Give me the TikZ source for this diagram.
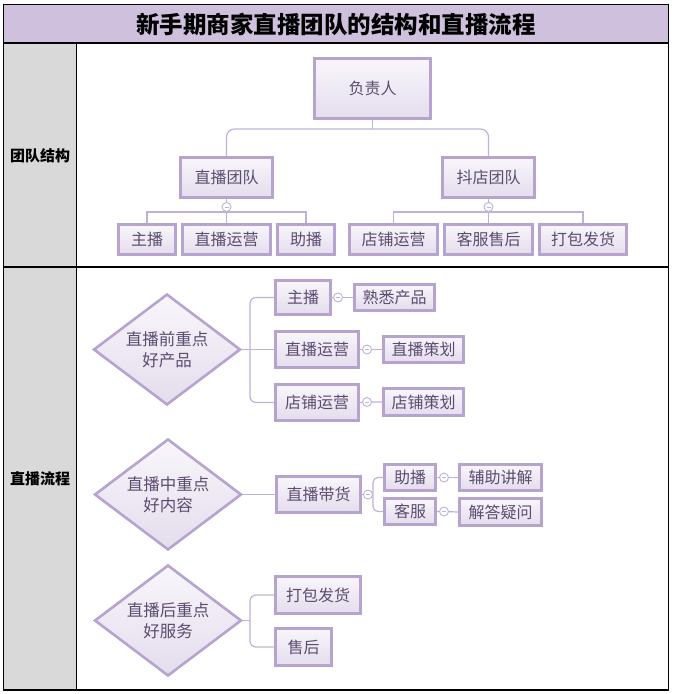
\documentclass[tikz,border=0pt]{standalone}
\usepackage{fontspec}
\newfontfamily\cjk{Noto Sans CJK SC}
\usetikzlibrary{shapes.geometric}
\definecolor{bord}{RGB}{182,164,206}
\definecolor{conn}{RGB}{192,178,214}
\definecolor{txt}{RGB}{92,76,112}
\definecolor{ftop}{RGB}{248,246,251}
\definecolor{fbot}{RGB}{228,221,237}
\definecolor{titlefill}{RGB}{207,193,221}
\definecolor{colfill}{RGB}{217,217,217}
\begin{document}
\begin{tikzpicture}[x=1pt,y=-1pt,
  boxnode/.style={draw=bord,line width=2.8pt,top color=ftop,bottom color=fbot,
    text=txt,font=\cjk\fontsize{16}{18}\selectfont,inner sep=0pt},
  dianode/.style={diamond,draw=bord,line width=2.6pt,top color=ftop,bottom color=fbot,
    text=txt,font=\cjk\fontsize{16.5}{21}\selectfont,inner sep=0pt,shape aspect=1.3,
    align=center,minimum width=147pt,minimum height=111pt},
  link/.style={draw=conn,line width=1.2pt},
  minus/.style={circle,draw=conn,line width=0.9pt,fill=white,minimum size=9pt,inner sep=0pt,
    path picture={\draw[conn,line width=0.8pt] ([xshift=-2pt]path picture bounding box.center) -- ([xshift=2pt]path picture bounding box.center);}},
  lbl/.style={font=\cjk\bfseries\fontsize{15}{17}\selectfont,text=black}
]
\useasboundingbox (0,0) rectangle (673,694);
% table
\fill[titlefill] (3.5,4.5) rectangle (668.5,43);
\fill[colfill] (3.5,43) rectangle (76.5,690);
\draw[line width=1.1pt] (3.5,4.5) rectangle (668.5,690);
\draw[line width=1.1pt] (3.5,43) -- (668.5,43);
\draw[line width=1.1pt] (3.5,267) -- (668.5,267);
\draw[line width=1.1pt] (76.5,43) -- (76.5,690);
\node[font=\cjk\bfseries\fontsize{23.5}{26}\selectfont] (title) at (336,24) {新手期商家直播团队的结构和直播流程};
\node[lbl] (l1) at (40,156) {团队结构};
\node[lbl] (l2) at (40,479) {直播流程};

% row 1
\node[boxnode,minimum width=116pt,minimum height=60pt] (fzr) at (372.5,88.5) {负责人};
\node[boxnode,minimum width=92pt,minimum height=40pt] (zbtd) at (226.5,177.5) {直播团队};
\node[boxnode,minimum width=92pt,minimum height=40pt] (ddtd) at (488.5,177.5) {抖店团队};
\node[boxnode,minimum width=57pt,minimum height=30pt] (zb1) at (147,239.5) {主播};
\node[boxnode,minimum width=88pt,minimum height=30pt] (zbyy1) at (226.5,239.5) {直播运营};
\node[boxnode,minimum width=57pt,minimum height=30pt] (zhub1) at (306,239.5) {助播};
\node[boxnode,minimum width=88pt,minimum height=30pt] (dpyy1) at (393.5,239.5) {店铺运营};
\node[boxnode,minimum width=88pt,minimum height=30pt] (kfsh) at (488.5,239.5) {客服售后};
\node[boxnode,minimum width=87pt,minimum height=30pt] (dbfh1) at (583,239.5) {打包发货};

\coordinate (j1) at (372.5,129);
\path[link] (fzr.south) -- (j1);
\path[link,rounded corners=8pt] (zbtd.north) |- (j1) -| (ddtd.north);
\node[minus] (m1) at (226.5,207) {};
\node[minus] (m2) at (488.5,207) {};
\path[link] (zbtd.south) -- (m1);
\path[link] (ddtd.south) -- (m2);
\coordinate (h1) at (226.5,212);
\coordinate (h2) at (488.5,212);
\path[link] (zb1.north) |- (h1) -| (zhub1.north);
\path[link] (m1) -- (zbyy1.north);
\path[link] (dpyy1.north) |- (h2) -| (dbfh1.north);
\path[link] (m2) -- (kfsh.north);

% row 2: diamond 1
\node[dianode] (d1) at (167,349.5) {直播前重点\\好产品};
\node[boxnode,minimum width=55pt,minimum height=34pt] (zb2) at (303,297.5) {主播};
\node[boxnode,minimum width=83pt,minimum height=36pt] (zbyy2) at (317,349.5) {直播运营};
\node[boxnode,minimum width=83pt,minimum height=36pt] (dpyy2) at (317,402.5) {店铺运营};
\node[boxnode,minimum width=80pt,minimum height=26pt] (sxcp) at (394.5,297.5) {熟悉产品};
\node[boxnode,minimum width=80pt,minimum height=26pt] (zbch) at (423.5,349.5) {直播策划};
\node[boxnode,minimum width=80pt,minimum height=27pt] (dpch) at (423.5,402) {店铺策划};
\path[link] (d1.east) -- (zbyy2.west);
\path[link,rounded corners=6pt] (zb2.west) -| (250,349.5) |- (dpyy2.west);
\node[minus] (m3) at (338,297.5) {};
\node[minus] (m4) at (367,349.5) {};
\node[minus] (m5) at (367,402) {};
\path[link] (zb2.east) -- (m3) -- (sxcp.west);
\path[link] (zbyy2.east) -- (m4) -- (zbch.west);
\path[link] (dpyy2.east) -- (m5) -- (dpch.west);

% diamond 2
\node[dianode] (d2) at (168,494.5) {直播中重点\\好内容};
\node[boxnode,minimum width=84pt,minimum height=36pt] (zbdh) at (318.5,494.5) {直播带货};
\node[boxnode,minimum width=51pt,minimum height=26pt] (zhub2) at (410,477.5) {助播};
\node[boxnode,minimum width=51pt,minimum height=26pt] (kf) at (410,511.5) {客服};
\node[boxnode,minimum width=82pt,minimum height=26pt] (fzjj) at (500.5,477.5) {辅助讲解};
\node[boxnode,minimum width=82pt,minimum height=27pt] (jdyw) at (500.5,512) {解答疑问};
\path[link] (d2.east) -- (zbdh.west);
\node[minus] (m6) at (368,494.5) {};
\path[link] (zbdh.east) -- (m6);
\path[link,rounded corners=5pt] (zhub2.west) -| (373,494.5) |- (kf.west);
\node[minus] (m7) at (444,477.5) {};
\node[minus] (m8) at (444,511.5) {};
\path[link] (zhub2.east) -- (m7) -- (fzjj.west);
\path[link] (kf.east) -- (m8) -- (jdyw.west);

% diamond 3
\node[dianode] (d3) at (168,620.5) {直播后重点\\好服务};
\node[boxnode,minimum width=85pt,minimum height=37pt] (dbfh2) at (318,595) {打包发货};
\node[boxnode,minimum width=56pt,minimum height=37pt] (sh) at (303.5,647) {售后};
\coordinate (b3) at (250,620.5);
\path[link] (d3.east) -- (b3);
\path[link,rounded corners=6pt] (dbfh2.west) -| (b3) |- (sh.west);
\end{tikzpicture}
\end{document}
